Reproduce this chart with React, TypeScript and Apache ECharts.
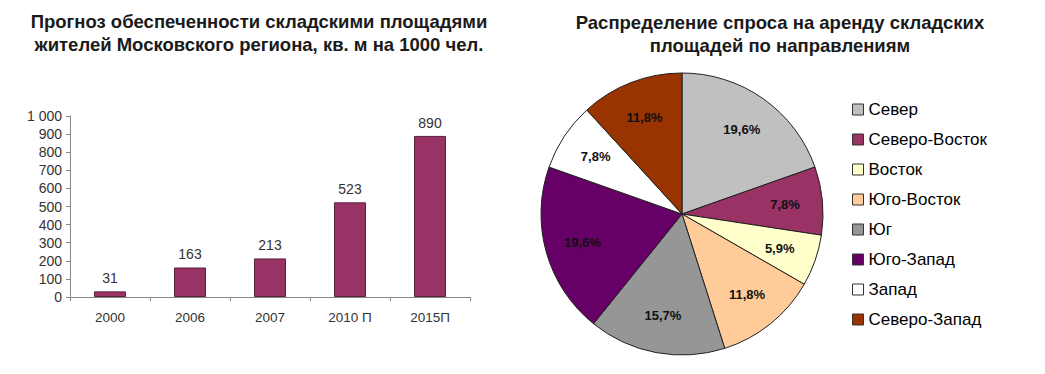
import React, { useEffect, useRef } from "react";
import * as echarts from "echarts";

const years = ["2000", "2006", "2007", "2010 П", "2015П"];
const supply = [31, 163, 213, 523, 890];
const yTicks = [0, 100, 200, 300, 400, 500, 600, 700, 800, 900, 1000];

const directions = ["Север", "Северо-Восток", "Восток", "Юго-Восток", "Юг", "Юго-Запад", "Запад", "Северо-Запад"];
const shares = [19.6, 7.8, 5.9, 11.8, 15.7, 19.6, 7.8, 11.8];
const sliceColors = ["#C0C0C0", "#993366", "#FFFFCC", "#FFCC99", "#969696", "#660066", "#FFFFFF", "#993300"];

const FONT = "Liberation Sans, Arial, sans-serif";

export default function App() {
  const ref = useRef<HTMLDivElement>(null);
  useEffect(() => {
    if (!ref.current) return;
    const chart = echarts.init(ref.current, undefined, { renderer: "svg" });
    const pieData = directions.map((n, i) => ({ name: n, value: shares[i], itemStyle: { color: sliceColors[i] } }));
    chart.setOption({
      animation: false,
      backgroundColor: "#fff",
      textStyle: { fontFamily: FONT },
      title: [
        {
          text: "Прогноз обеспеченности складскими площадями\nжителей Московского региона, кв. м на 1000 чел.",
          left: 254,
          top: 5,
          textAlign: "center",
          textStyle: { fontSize: 18.5, fontWeight: "bold", color: "#1a1a1a", lineHeight: 23, fontFamily: FONT },
        },
        {
          text: "Распределение спроса на аренду складских\nплощадей по направлениям",
          left: 775,
          top: 6,
          textAlign: "center",
          textStyle: { fontSize: 18.5, fontWeight: "bold", color: "#1a1a1a", lineHeight: 23, fontFamily: FONT },
        },
      ],
      legend: {
        orient: "vertical",
        left: 847,
        top: 96,
        itemWidth: 11,
        itemHeight: 11,
        itemGap: 13,
        icon: "rect",
        data: directions,
        itemStyle: { borderColor: "#333", borderWidth: 1 },
        textStyle: { fontSize: 17, color: "#000", fontFamily: FONT },
      },
      grid: { left: 70, right: 575, top: 116, bottom: 77, containLabel: false },
      xAxis: {
        type: "category",
        data: years,
        axisLine: { lineStyle: { color: "#888" } },
        axisTick: { show: true, alignWithLabel: false, length: 4, lineStyle: { color: "#888" } },
        axisLabel: { color: "#333", fontSize: 13.5, margin: 13, fontFamily: FONT },
      },
      yAxis: {
        type: "value",
        min: yTicks[0],
        max: yTicks[yTicks.length - 1],
        interval: 100,
        splitLine: { show: false },
        axisLine: { show: true, lineStyle: { color: "#888" } },
        axisTick: { show: true, length: 4, lineStyle: { color: "#888" } },
        axisLabel: {
          color: "#333",
          fontSize: 14,
          margin: 8,
          fontFamily: FONT,
          formatter: (v: number) => (v >= 1000 ? String(v).replace(/\B(?=(\d{3})+(?!\d))/g, " ") : String(v)),
        },
      },
      series: [
        {
          type: "bar",
          data: supply,
          barWidth: "40%",
          itemStyle: { color: "#993366", borderColor: "#5a2040", borderWidth: 1 },
          label: { show: true, position: "top", distance: 6, color: "#333", fontSize: 14, fontFamily: FONT },
        },
        {
          type: "pie",
          name: "pie",
          center: [682, 214],
          radius: [0, 141],
          startAngle: 90,
          clockwise: true,
          data: pieData,
          label: { show: false },
          labelLine: { show: false },
          itemStyle: { borderColor: "#222", borderWidth: 1 },
          emphasis: { disabled: true },
        },
        {
          type: "pie",
          name: "labels",
          center: [682, 214],
          radius: [60, 141],
          startAngle: 90,
          clockwise: true,
          silent: true,
          data: directions.map((n, i) => ({ name: n, value: shares[i], itemStyle: { color: "rgba(0,0,0,0)" } })),
          label: {
            show: true,
            position: "inside",
            color: "#111",
            fontSize: 13,
            fontWeight: "bold",
            fontFamily: FONT,
            formatter: (p: any) => p.value.toFixed(1).replace(".", ",") + "%",
          },
          labelLine: { show: false },
          itemStyle: { borderWidth: 0 },
          emphasis: { disabled: true },
        },
      ],
    });
    return () => chart.dispose();
  }, []);
  return <div ref={ref} style={{ width: 1045, height: 374, position: "absolute", left: 0, top: 0 }} />;
}
